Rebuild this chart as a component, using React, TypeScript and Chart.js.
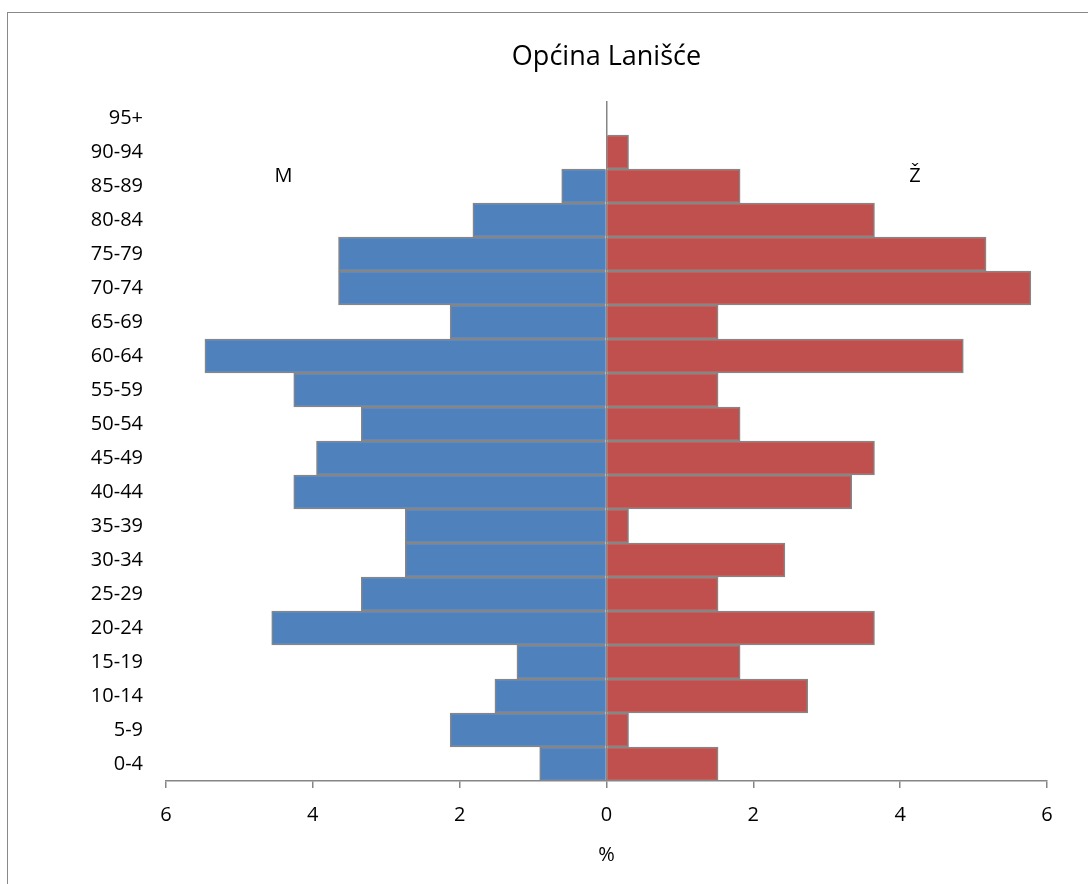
import React, { useEffect, useRef } from "react";
import { Chart, registerables } from "chart.js";

Chart.register(...registerables);

const FONT = "'Open Sans', 'DejaVu Sans', sans-serif";
const GRAY = "#868686";

const chartTitle = "Općina Lanišće";
const axisTitle = "%";
const ageGroups = [
  "0-4", "5-9", "10-14", "15-19", "20-24", "25-29", "30-34", "35-39", "40-44", "45-49",
  "50-54", "55-59", "60-64", "65-69", "70-74", "75-79", "80-84", "85-89", "90-94", "95+",
];
// percentage of population, male (drawn to the left)
const maleValues = [
  0.91, 2.13, 1.52, 1.22, 4.56, 3.34, 2.74, 2.74, 4.26, 3.95,
  3.34, 4.26, 5.47, 2.13, 3.65, 3.65, 1.82, 0.61, 0, 0,
];
// percentage of population, female (drawn to the right)
const femaleValues = [
  1.52, 0.30, 2.74, 1.82, 3.65, 1.52, 2.43, 0.30, 3.34, 3.65,
  1.82, 1.52, 4.86, 1.52, 5.78, 5.17, 3.65, 1.82, 0.30, 0,
];
const xMin = -6;
const xMax = 6;
const xStep = 2;
const sexLabels = [
  { text: "M", x: -4.4, row: 17.3 },
  { text: "Ž", x: 4.2, row: 17.3 },
];

const sexLabelPlugin = {
  id: "sexLabels",
  afterDatasetsDraw(chart: any) {
    const { ctx, scales } = chart;
    const xs = scales.x;
    const ys = scales.y;
    ctx.save();
    ctx.font = `20px ${FONT}`;
    ctx.fillStyle = "#000";
    ctx.textAlign = "center";
    ctx.textBaseline = "middle";
    sexLabels.forEach((l) => {
      ctx.fillText(l.text, xs.getPixelForValue(l.x), ys.getPixelForValue(l.row));
    });
    ctx.restore();
  },
};

export default function App() {
  const canvasRef = useRef<HTMLCanvasElement | null>(null);

  useEffect(() => {
    const canvas = canvasRef.current;
    if (!canvas) return;
    const chart = new Chart(canvas, {
      type: "bar",
      data: {
        labels: ageGroups,
        datasets: [
          {
            label: "M",
            data: maleValues.map((v) => -v),
            backgroundColor: "#4F81BD",
            borderColor: GRAY,
            borderWidth: 1.5,
            barPercentage: 1,
            categoryPercentage: 1,
          },
          {
            label: "Ž",
            data: femaleValues,
            backgroundColor: "#C0504D",
            borderColor: GRAY,
            borderWidth: 1.5,
            barPercentage: 1,
            categoryPercentage: 1,
          },
        ],
      },
      options: {
        indexAxis: "y",
        responsive: false,
        animation: false,
        layout: { padding: { left: 0, right: 41, top: 0, bottom: 17 } },
        plugins: {
          legend: { display: false },
          tooltip: { enabled: false },
          title: {
            display: true,
            fullSize: false,
            text: chartTitle,
            color: "#000",
            font: { family: FONT, size: 27, weight: "normal", lineHeight: 1.2 },
            padding: { top: 41, bottom: 27.6 },
          },
        },
        scales: {
          x: {
            type: "linear",
            min: xMin,
            max: xMax,
            stacked: true,
            ticks: {
              stepSize: xStep,
              callback: (v: any) => String(Math.abs(Number(v))),
              color: "#000",
              font: { family: FONT, size: 20, lineHeight: 1.2 },
              padding: 15,
            },
            grid: {
              color: (ctx: any) => (ctx.tick && ctx.tick.value === 0 ? GRAY : "rgba(0,0,0,0)"),
              tickColor: GRAY,
              tickLength: 7,
              lineWidth: 1.5,
              drawOnChartArea: true,
            },
            border: { display: true, color: GRAY, width: 1.5 },
            title: {
              display: true,
              text: axisTitle,
              color: "#000",
              font: { family: FONT, size: 20, lineHeight: 1.2 },
              padding: { top: 16, bottom: 0 },
            },
            afterFit: (scale: any) => {
              scale.height = 86;
            },
          },
          y: {
            type: "category",
            reverse: true,
            stacked: true,
            grid: { display: false, drawTicks: false },
            border: { display: false },
            ticks: {
              color: "#000",
              font: { family: FONT, size: 20, lineHeight: 1.2 },
              padding: 23,
              autoSkip: false,
            },
            afterFit: (scale: any) => {
              scale.width = 166;
            },
          },
        },
      } as any,
      plugins: [sexLabelPlugin],
    });
    return () => chart.destroy();
  }, []);

  return (
    <div
      style={{
        position: "fixed",
        left: 0,
        top: 0,
        width: 1088,
        height: 884,
        overflow: "hidden",
        background: "#fff",
      }}
    >
      <div
        style={{
          position: "absolute",
          left: 7,
          top: 12,
          width: 1200,
          height: 1000,
          borderLeft: "1px solid #898989",
          borderTop: "1px solid #898989",
        }}
      />
      <canvas
        ref={canvasRef}
        width={1088}
        height={884}
        style={{ position: "absolute", left: 0, top: 0 }}
      />
    </div>
  );
}
